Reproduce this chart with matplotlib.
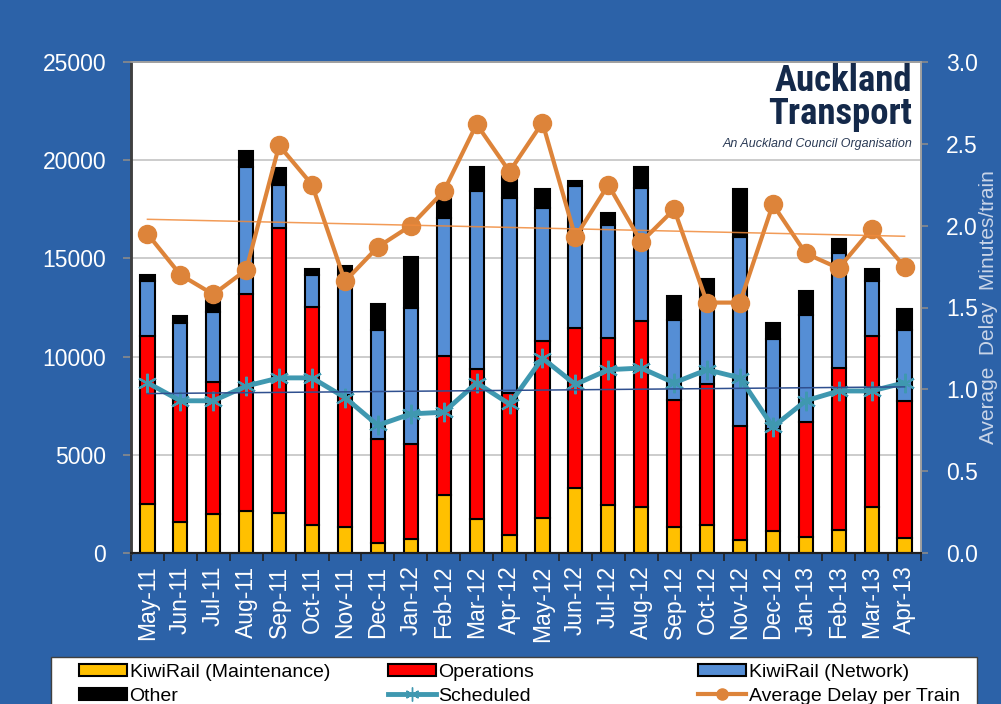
import numpy as np
import matplotlib
matplotlib.use("Agg")
import matplotlib.pyplot as plt
from matplotlib.patches import Rectangle, Patch
from matplotlib.lines import Line2D
from matplotlib import font_manager

plt.rcParams['font.family'] = ['Liberation Sans', 'DejaVu Sans']

months = ["May-11", "Jun-11", "Jul-11", "Aug-11", "Sep-11", "Oct-11", "Nov-11", "Dec-11",
          "Jan-12", "Feb-12", "Mar-12", "Apr-12", "May-12", "Jun-12", "Jul-12", "Aug-12",
          "Sep-12", "Oct-12", "Nov-12", "Dec-12", "Jan-13", "Feb-13", "Mar-13", "Apr-13"]
maintenance = [2500, 1580, 1990, 2120, 2050, 1410, 1340, 530, 710, 2950, 1730, 920,
               1780, 3290, 2430, 2360, 1310, 1430, 660, 1140, 800, 1170, 2360, 780]
operations = [8550, 6210, 6720, 11070, 14500, 11100, 6700, 5280, 4820, 7080, 7650, 7250,
              9030, 8150, 8500, 9470, 6480, 7160, 5820, 5160, 5890, 8250, 8690, 6940]
network = [2790, 3900, 3570, 6480, 2190, 1630, 5960, 5550, 6930, 7010, 9050, 9930,
           6740, 7270, 5770, 6770, 4080, 4410, 9590, 4580, 5430, 5840, 2790, 3630]
other = [340, 390, 630, 800, 850, 300, 610, 1310, 2630, 1260, 1240, 1110,
         1000, 240, 630, 1070, 1240, 940, 2480, 820, 1220, 750, 610, 1070]
scheduled = [1.04, 0.93, 0.93, 1.02, 1.07, 1.07, 0.95, 0.78, 0.85, 0.86, 1.04, 0.91,
             1.19, 1.03, 1.12, 1.13, 1.04, 1.12, 1.07, 0.77, 0.93, 0.99, 0.99, 1.04]
avg_delay = [1.95, 1.70, 1.58, 1.73, 2.49, 2.25, 1.66, 1.87, 2.00, 2.21, 2.62, 2.33,
             2.63, 1.93, 2.25, 1.90, 2.10, 1.53, 1.53, 2.13, 1.83, 1.74, 1.98, 1.75]

BG = '#2c62a8'
C_Y, C_R, C_B, C_K = '#ffc000', '#ff0000', '#558ed5', '#000000'
C_TEAL, C_OR = '#3f98b0', '#dd843a'

fig = plt.figure(figsize=(10.01, 7.04), dpi=100, facecolor=BG)
W, H = 1001.0, 704.0
ax = fig.add_axes([131 / W, 1 - 553 / H, 790 / W, 491 / H])
ax.set_facecolor('white')

x = np.arange(len(months))
bw = 0.43
bk = dict(width=bw, edgecolor='black', linewidth=1.5, zorder=3)
m = np.array(maintenance); o = np.array(operations); n = np.array(network); k = np.array(other)
ax.bar(x, m, color=C_Y, **bk)
ax.bar(x, o, bottom=m, color=C_R, **bk)
ax.bar(x, n, bottom=m + o, color=C_B, **bk)
ax.bar(x, k, bottom=m + o + n, color=C_K, **bk)

ax.set_xlim(-0.5, len(months) - 0.5)
ax.set_ylim(0, 25000)
ax.set_yticks(np.arange(0, 25001, 5000))
ax.yaxis.grid(True, color='#c8c8c8', linewidth=1.3, zorder=0)
ax.set_axisbelow(True)
ax.set_xticks(x)
ax.set_xticklabels(months, rotation=90, ha='center', va='top')
ax.set_xticks(np.arange(-0.5, len(months), 1), minor=True)
ax.tick_params(axis='x', which='major', length=0, pad=9, labelsize=16.5, labelcolor='white')
ax.tick_params(axis='x', which='minor', length=6, width=1.2, color='#222222')
ax.tick_params(axis='y', length=6, width=1.2, color='#8a8a8a', labelsize=16.5,
               labelcolor='white', pad=12)

ax2 = ax.twinx()
ax2.set_ylim(0, 3.0)
ax2.set_yticks(np.arange(0, 3.01, 0.5))
ax2.set_yticklabels([f"{v:.1f}" for v in np.arange(0, 3.01, 0.5)])
ax2.tick_params(axis='y', length=5, width=1.2, color='#8a8a8a', labelsize=16.5,
                labelcolor='white', pad=13)

ax2.plot(x, scheduled, color=C_TEAL, lw=3.5, marker=(6, 2, 0), ms=14, mew=1.6,
         mec=C_TEAL, zorder=4, solid_capstyle='round')
ax2.plot(x, avg_delay, color=C_OR, lw=3.0, marker='o', ms=13, mec=C_OR, zorder=5)

ps = np.polyfit(x, scheduled, 1)
pd_ = np.polyfit(x, avg_delay, 1)
ax2.plot(x, np.polyval(ps, x), color='#2f4f8f', lw=1.1, zorder=6)
ax2.plot(x, np.polyval(pd_, x), color='#f08a3a', lw=1.1, alpha=0.85, zorder=6)

for a in (ax, ax2):
    for s in ('top', 'right'):
        a.spines[s].set_color('#a0a0a0')
        a.spines[s].set_linewidth(1.2)
    a.spines['left'].set_color('#404040')
    a.spines['left'].set_linewidth(1.8)
    a.spines['bottom'].set_color('#202020')
    a.spines['bottom'].set_linewidth(1.5)

fig.text(989 / W, 1 - 307 / H, "Average  Delay  Minutes/train", rotation=90,
         ha='center', va='center', fontsize=15, color='#c9d5e8')

# logo
names = {f.name for f in font_manager.fontManager.ttflist}
logo_fam = 'Liberation Sans'
for cand in ('Liberation Sans Narrow', 'Roboto Condensed', 'Roboto'):
    if cand in names:
        logo_fam = cand
        break
fig.canvas.draw()
renderer = fig.canvas.get_renderer()
logo_col = '#14294a'
probe = fig.text(0, 0, "Auckland", fontsize=26, fontweight='bold', family=logo_fam)
wpx = probe.get_window_extent(renderer).width
probe.remove()
sz = min(26.5, 26 * 138.0 / wpx)
fig.text(912 / W, 1 - 124 / H, "Auckland\nTransport", ha='right', va='baseline',
         multialignment='right', linespacing=0.88,
         fontsize=sz, fontweight='bold', family=logo_fam, color=logo_col)
fig.text(912 / W, 1 - 146.5 / H, "An Auckland Council Organisation", ha='right',
         va='baseline', fontsize=9, style='italic', color='#2a3a55')

# legend frame
fig.patches.append(Rectangle((51 / W, -0.02), 926 / W, (704 - 657) / H + 0.02,
                             transform=fig.transFigure, facecolor='white',
                             edgecolor='#404040', linewidth=1.0, zorder=0))

def pat(c):
    return Patch(facecolor=c, edgecolor='black', linewidth=1.5)

cols = [
    (79, [pat(C_Y), pat(C_K)], ["KiwiRail (Maintenance)", "Other"]),
    (388, [pat(C_R), Line2D([], [], color=C_TEAL, lw=3.5, marker=(6, 2, 0), ms=10, mew=1.0)],
     ["Operations", "Scheduled"]),
    (698, [pat(C_B), Line2D([], [], color=C_OR, lw=3.0, marker='o', ms=8)],
     ["KiwiRail (Network)", "Average Delay per Train"]),
]
for xl, hs, ls in cols:
    fig.legend(hs, ls, loc='upper left', bbox_to_anchor=(xl / W, 1 - 664 / H),
               bbox_transform=fig.transFigure, frameon=False, fontsize=14,
               handlelength=2.45, handleheight=0.6, handletextpad=0.15,
               labelspacing=0.35, borderpad=0, borderaxespad=0, numpoints=1)

fig.savefig("out.png", dpi=100, facecolor=BG)
